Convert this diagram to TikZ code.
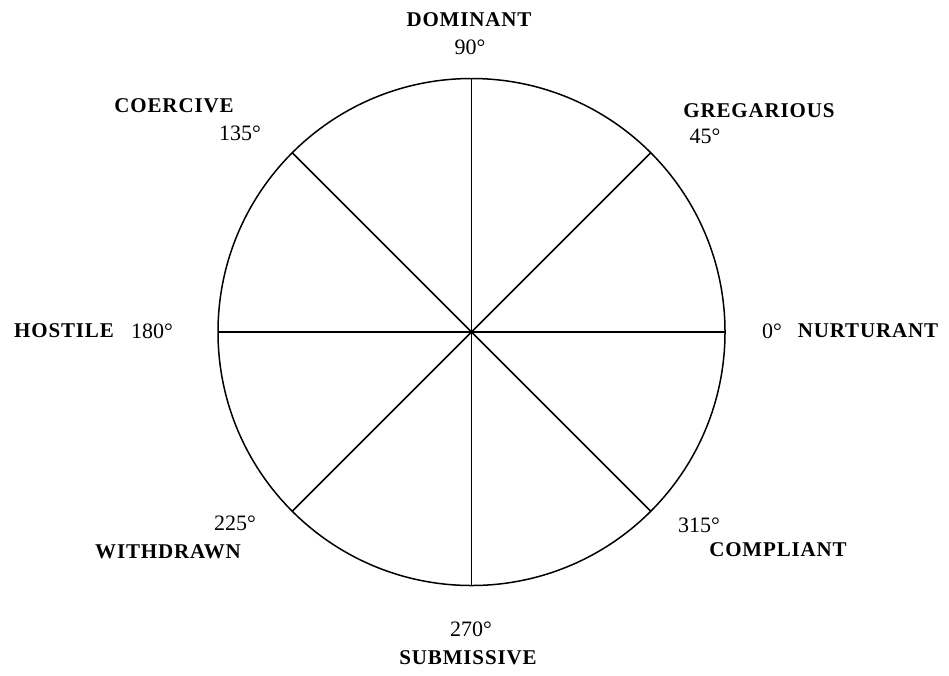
\documentclass[tikz,border=0pt]{standalone}
\usepackage{fontspec}
\setmainfont{Liberation Serif}
\newfontfamily\lblfont[LetterSpace=4]{Liberation Serif Bold}
\begin{document}
\begin{tikzpicture}[x=1pt,y=-1pt,
  lbl/.style={font=\lblfont\fontsize{21}{21}\selectfont, inner sep=0pt, anchor=center},
  deg/.style={font=\fontsize{22}{22}\selectfont, inner sep=0pt, anchor=center},
  spoke/.style={line width=1.5pt, black}]
\useasboundingbox (0,0) rectangle (949,675);
\coordinate (c) at (471.5,332);
\draw[spoke] (c) circle[radius=253.5];
\foreach \a in {0,45,...,315} {
  \draw[spoke] (c) -- ++(\a:253.5 and -253.5);
}
\node[lbl] (dom) at (469,20) {DOMINANT};
\node[deg] (d90) at (470,47) {90°};
\node[lbl] (coe) at (174,106) {COERCIVE};
\node[deg] (d135) at (240,133) {135°};
\node[lbl] (gre) at (759,111) {GREGARIOUS};
\node[deg] (d45) at (705,136) {45°};
\node[lbl] (hos) at (64,331) {HOSTILE};
\node[deg] (d180) at (152,331) {180°};
\node[deg] (d0) at (772,331) {0°};
\node[lbl] (nur) at (868,331) {NURTURANT};
\node[deg] (d225) at (235,523) {225°};
\node[lbl] (wit) at (168,552) {WITHDRAWN};
\node[deg] (d315) at (699,525) {315°};
\node[lbl] (com) at (778,550) {COMPLIANT};
\node[deg] (d270) at (471,629) {270°};
\node[lbl] (sub) at (468,658) {SUBMISSIVE};
\end{tikzpicture}
\end{document}
